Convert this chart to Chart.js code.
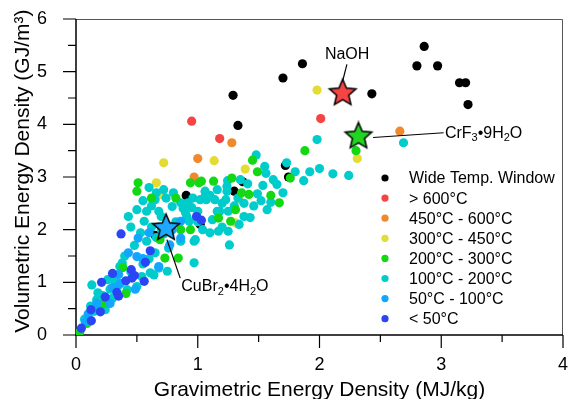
<!DOCTYPE html>
<html>
<head>
<meta charset="utf-8">
<script src="https://cdn.jsdelivr.net/npm/chart.js@4.4.0/dist/chart.umd.min.js"></script>
<style>
  html, body { margin: 0; padding: 0; background: #fff; overflow: hidden; }
  canvas { display: block; }
</style>
</head>
<body>
<canvas id="energyChart" width="568" height="399"></canvas>
<script>
// values (x = MJ/kg, y = GJ/m3)
var categories = ['Wide Temp. Window', '> 600°C', '450°C - 600°C', '300°C - 450°C',
  '200°C - 300°C', '100°C - 200°C', '50°C - 100°C', '< 50°C'];

var wideX = [1.29, 1.33, 1.70, 1.86, 2.86, 2.80, 2.97, 3.15, 3.20, 3.22, 2.43, 1.72, 1.745, 1.37, 1.30, 0.905, 1.02, 0.65];
var wideY = [4.55, 3.98, 4.88, 5.15, 5.48, 5.11, 5.11, 4.79, 4.79, 4.375, 4.58, 3.22, 3.00, 2.91, 2.73, 2.65, 2.10, 1.89];

var hotX = [0.95, 1.18, 2.01];
var hotY = [4.06, 3.73, 4.11];

var t450X = [1.28, 1.00, 0.97, 2.66];
var t450Y = [3.65, 3.35, 3.00, 3.87];

var t300X = [0.72, 1.135, 1.39, 1.98, 2.31, 0.66, 0.70, 1.34, 1.31];
var t300Y = [3.27, 3.31, 3.15, 4.65, 3.35, 2.89, 2.67, 2.57, 2.13];

var t200X = [0.51, 0.50, 0.62, 0.82, 0.94, 1.01, 0.86, 0.94, 0.69, 0.84, 0.73, 1.45, 1.49, 1.88, 1.76, 1.28,
  1.13, 1.03, 1.36, 1.42, 1.60, 1.67, 1.31, 1.27, 1.17, 2.30, 0.385, 0.41, 0.03, 0.23, 0.09];
var t200Y = [2.89, 2.73, 2.60, 2.60, 2.89, 2.89, 2.00, 2.00, 1.81, 1.46, 1.46, 3.32, 3.10, 3.50, 2.98, 2.98,
  2.92, 2.92, 2.70, 2.67, 2.65, 2.51, 2.38, 2.16, 2.22, 3.50, 1.28, 0.79, 0.05, 0.60, 0.22];

var t100X = [1.48, 1.73, 1.87, 1.56, 1.535, 1.65, 1.49, 1.41, 1.33, 1.245, 1.24, 1.16, 1.06, 1.07, 1.14, 1.23,
  1.18, 1.25, 1.12, 1.38, 1.43, 1.57, 1.60, 1.10, 1.17, 1.25, 1.26,
  1.98, 2.00, 2.11, 2.24, 2.69,
  0.72, 0.65, 0.79, 0.86, 0.92, 0.90, 0.93, 0.43, 0.50, 0.58, 0.68, 0.56, 0.53, 0.58, 0.76, 0.86, 0.97, 1.02, 1.06,
  1.24, 1.16, 0.91, 0.98, 0.97, 0.65, 0.75, 0.61, 0.54, 0.13, 0.50, 0.68,
  0.38, 0.24, 0.64, 0.42, 0.28, 0.17, 0.31,
  0.10, 0.15, 0.20, 0.22, 0.30, 0.35, 0.45, 0.55, 0.60, 0.55, 0.62, 0.70, 0.82, 0.95, 1.00, 1.10, 1.20, 1.30,
  1.35, 1.62, 1.80, 1.92, 1.55, 1.70, 0.45, 0.62,
  0.60, 0.66, 0.74, 0.80, 0.88, 0.96, 1.00, 1.04, 1.20, 1.34, 1.46, 1.52, 1.38, 0.70, 0.66, 0.72,
  0.48, 0.40, 0.36, 0.26, 0.18, 0.12, 0.07];
var t100Y = [3.42, 3.27, 2.93, 3.07, 2.84, 2.86, 2.68, 2.87, 2.60, 2.93, 2.73, 2.76, 2.73, 2.57, 2.57, 2.57,
  2.35, 2.35, 2.19, 2.25, 2.23, 2.38, 2.52, 1.94, 1.97, 1.97, 1.71,
  3.71, 3.16, 3.06, 3.03, 3.65,
  2.76, 2.57, 2.44, 2.51, 2.51, 2.32, 2.16, 2.25, 2.38, 2.35, 2.35, 2.16, 1.94, 1.78, 1.65, 1.78, 1.78, 2.57, 2.63,
  2.82, 2.35, 2.25, 1.81, 1.37, 1.56, 1.21, 1.18, 1.11, 0.95, 0.92, 1.27,
  1.37, 0.48, 1.14, 0.86, 0.87, 0.67, 1.05,
  0.35, 0.45, 0.55, 0.75, 0.70, 0.95, 1.20, 1.35, 1.45, 2.55, 2.45, 2.25, 2.15, 2.42, 2.35, 2.65, 2.50, 2.45,
  2.95, 2.95, 3.10, 3.10, 3.20, 2.70, 2.05, 2.05,
  2.80, 2.70, 2.60, 2.70, 2.40, 2.60, 2.15, 2.00, 2.05, 2.10, 2.45, 2.55, 2.50, 2.00, 1.85, 1.92,
  1.70, 1.50, 1.30, 1.05, 0.80, 0.55, 0.30];

var t50X = [0.43, 0.487, 0.364, 0.17, 0.076, 0.68, 0.50, 0.28, 0.51, 0.86, 0.86, 0.79, 0.60, 0.77, 0.10, 0.30, 0.35, 0.55];
var t50Y = [1.56, 0.87, 0.98, 0.60, 0.25, 1.30, 1.49, 0.60, 1.84, 2.16, 1.84, 2.00, 1.94, 1.71, 0.40, 0.90, 1.15, 1.45];

var coldX = [0.044, 0.126, 0.123, 0.20, 0.24, 0.21, 0.30, 0.336, 0.35, 0.41, 0.454, 0.48, 0.56, 0.57, 0.61, 0.37, 0.99, 1.03, 0.46];
var coldY = [0.13, 0.27, 0.48, 0.44, 0.72, 1.00, 1.17, 0.81, 0.74, 1.03, 1.24, 1.13, 1.02, 1.38, 1.60, 1.92, 2.25, 2.18, 1.08];

// highlighted compounds
var starNames = ['NaOH', 'CrF3•9H2O', 'CuBr2•4H2O'];
var starX = [2.19, 2.32, 0.74];
var starY = [4.59, 3.77, 2.03];

var catColors = ['#000000', '#f44444', '#f0892c', '#e4db35', '#13d813', '#00cccc', '#13a6ff', '#2b45f5'];
var starColors = ['#f44444', '#22d322', '#1ea8ff'];

function pts(xs, ys) {
  return xs.map(function (x, i) { return { x: x, y: ys[i] }; });
}

function makeStar(fill) {
  var R = 14, r = 6.4, c = document.createElement('canvas');
  c.width = c.height = 2 * R + 4;
  var g = c.getContext('2d'), m = R + 2;
  g.beginPath();
  for (var i = 0; i < 10; i++) {
    var rad = i % 2 ? r : R, a = -Math.PI / 2 + i * Math.PI / 5;
    g.lineTo(m + rad * Math.cos(a), m + rad * Math.sin(a));
  }
  g.closePath();
  g.fillStyle = fill; g.fill();
  g.lineWidth = 1.5; g.strokeStyle = '#000'; g.stroke();
  return c;
}

var series = [
  [wideX, wideY], [hotX, hotY], [t450X, t450Y], [t300X, t300Y],
  [t200X, t200Y], [t100X, t100Y], [t50X, t50Y], [coldX, coldY]
];
// drawing order: lower number is painted on top
var drawOrder = [9, 8, 7, 6, 4, 5, 3, 2];

var datasets = series.map(function (s, i) {
  return {
    label: categories[i],
    data: pts(s[0], s[1]),
    backgroundColor: catColors[i],
    borderWidth: 0,
    pointRadius: 4.6,
    order: drawOrder[i]
  };
});
starNames.forEach(function (n, i) {
  datasets.push({
    label: n,
    data: [{ x: starX[i], y: starY[i] }],
    pointStyle: makeStar(starColors[i]),
    pointRadius: 14,
    order: 0
  });
});

// label text, label anchor, and leader line ends (in data units)
var notes = [
  { parts: [['NaOH', 0]], at: [2.227, 5.33], align: 'center', line: [[2.225, 5.14], [2.19, 4.82]] },
  { parts: [['CrF', 0], ['3', 1], ['•9H', 0], ['2', 1], ['O', 0]], at: [3.03, 3.83], align: 'left', line: [[2.44, 3.75], [3.02, 3.84]] },
  { parts: [['CuBr', 0], ['2', 1], ['•4H', 0], ['2', 1], ['O', 0]], at: [0.865, 0.92], align: 'left', line: [[0.747, 1.81], [0.856, 1.08]] }
];

var FONT = '"Liberation Sans", Arial, sans-serif';

function drawParts(ctx, parts, x, y, align) {
  var big = '16px ' + FONT, small = '11px ' + FONT, w = 0;
  parts.forEach(function (p) { ctx.font = p[1] ? small : big; w += ctx.measureText(p[0]).width; });
  var cx = align === 'center' ? x - w / 2 : x;
  ctx.textBaseline = 'middle';
  ctx.textAlign = 'left';
  parts.forEach(function (p) {
    ctx.font = p[1] ? small : big;
    ctx.fillText(p[0], cx, p[1] ? y + 5 : y);
    cx += ctx.measureText(p[0]).width;
  });
}

var decor = {
  id: 'decor',
  beforeDatasetsDraw: function (chart) {
    var ctx = chart.ctx, a = chart.chartArea, xs = chart.scales.x, ys = chart.scales.y;
    ctx.save();
    // frame
    ctx.strokeStyle = '#555'; ctx.lineWidth = 1;
    ctx.beginPath();
    ctx.moveTo(a.left, a.top + 0.5); ctx.lineTo(a.right - 0.5, a.top + 0.5); ctx.lineTo(a.right - 0.5, a.bottom);
    ctx.stroke();
    ctx.strokeStyle = '#000'; ctx.lineWidth = 1.5;
    ctx.beginPath();
    ctx.moveTo(a.left, a.top); ctx.lineTo(a.left, a.bottom); ctx.lineTo(a.right, a.bottom);
    ctx.stroke();
    // outside ticks, major every 1, minor every 0.5
    ctx.lineWidth = 1.2;
    ctx.beginPath();
    for (var v = 0; v <= 4.001; v += 0.5) {
      var px = xs.getPixelForValue(v), len = Math.abs(v % 1) < 0.01 ? 13 : 7;
      ctx.moveTo(px, a.bottom); ctx.lineTo(px, a.bottom + len);
    }
    for (var w = 0; w <= 6.001; w += 0.5) {
      var py = ys.getPixelForValue(w), l2 = Math.abs(w % 1) < 0.01 ? 13 : 8;
      ctx.moveTo(a.left, py); ctx.lineTo(a.left - l2, py);
    }
    ctx.stroke();
    // x tick labels from the scale's own ticks
    ctx.fillStyle = '#000';
    ctx.font = '18px ' + FONT; ctx.textAlign = 'center'; ctx.textBaseline = 'middle';
    xs.ticks.forEach(function (t, i) {
      ctx.fillText(String(t.value), xs.getPixelForTick(i), a.bottom + 30);
    });
    ctx.restore();
  },
  afterDatasetsDraw: function (chart) {
    var ctx = chart.ctx, a = chart.chartArea, xs = chart.scales.x, ys = chart.scales.y;
    ctx.save();
    ctx.fillStyle = '#000'; ctx.strokeStyle = '#000'; ctx.lineWidth = 1.2;
    notes.forEach(function (n) {
      ctx.beginPath();
      ctx.moveTo(xs.getPixelForValue(n.line[0][0]), ys.getPixelForValue(n.line[0][1]));
      ctx.lineTo(xs.getPixelForValue(n.line[1][0]), ys.getPixelForValue(n.line[1][1]));
      ctx.stroke();
      drawParts(ctx, n.parts, xs.getPixelForValue(n.at[0]), ys.getPixelForValue(n.at[1]), n.align);
    });
    // legend inside the plot, lower right
    var lx = a.right - 178, ly = a.top + 159;
    ctx.font = '16px ' + FONT; ctx.textBaseline = 'middle'; ctx.textAlign = 'left';
    categories.forEach(function (c, i) {
      var yy = ly + i * 20.1;
      ctx.beginPath();
      ctx.fillStyle = catColors[i];
      ctx.arc(lx, yy, 3.6, 0, Math.PI * 2);
      ctx.fill();
      ctx.fillStyle = '#000';
      ctx.fillText(c, lx + 24, yy + 1);
    });
    ctx.restore();
  }
};

new Chart(document.getElementById('energyChart'), {
  type: 'scatter',
  data: { datasets: datasets },
  options: {
    responsive: false,
    animation: false,
    devicePixelRatio: 1,
    // no extra room for the big star markers
    layout: { autoPadding: false, padding: { top: 19, right: 5, left: 0, bottom: 0 } },
    plugins: { legend: { display: false }, tooltip: { enabled: false } },
    scales: {
      x: {
        type: 'linear', min: 0, max: 4,
        grid: { display: false },
        border: { display: false },
        ticks: { stepSize: 1, display: false },
        title: { display: true, text: 'Gravimetric Energy Density (MJ/kg)', color: '#000',
          font: { family: FONT, size: 21, lineHeight: 1 }, padding: { top: 0, bottom: -2 } },
        afterFit: function (s) { s.height = 64; }
      },
      y: {
        type: 'linear', min: 0, max: 6,
        grid: { display: true, drawOnChartArea: false, tickLength: 27, tickColor: 'rgba(0,0,0,0)' },
        border: { display: false },
        ticks: { stepSize: 1, color: '#000', padding: 2, font: { family: FONT, size: 18 } },
        title: { display: true, text: '\u00a0\u00a0Volumetric Energy Density (GJ/m³)', color: '#000',
          font: { family: FONT, size: 21, lineHeight: 1 }, padding: { top: 13, bottom: 0 } },
        afterFit: function (s) { s.width = 76; }
      }
    }
  },
  plugins: [decor]
});
</script>
</body>
</html>
